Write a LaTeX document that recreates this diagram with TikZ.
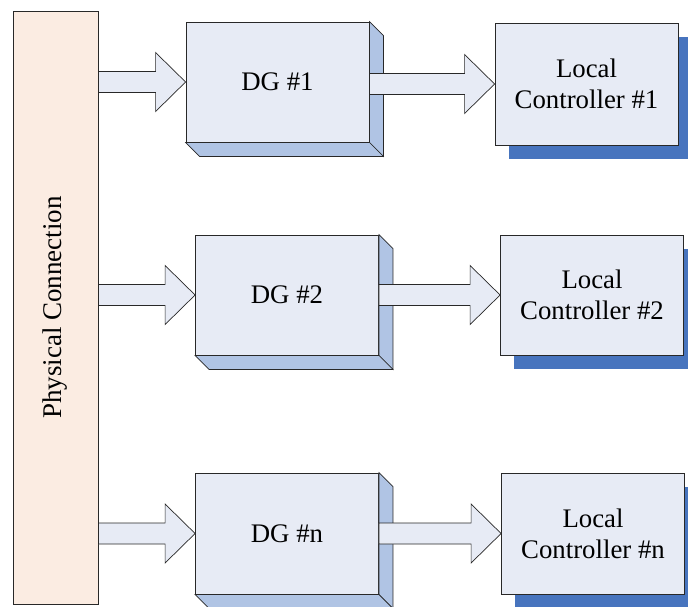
\documentclass[tikz,border=0pt]{standalone}
\usepackage{fontspec}
\setmainfont{Liberation Serif}
\usetikzlibrary{calc}
\definecolor{peach}{RGB}{251,236,226}
\definecolor{pale}{RGB}{231,235,245}
\definecolor{side}{RGB}{176,196,228}
\definecolor{shadowblue}{RGB}{71,116,190}
\definecolor{edge}{RGB}{40,40,40}
\tikzset{
  pcbox/.style={draw=edge, line width=0.9pt, fill=peach, minimum width=85pt, minimum height=593pt, inner sep=0pt},
  dgbox/.style={draw=edge, line width=0.8pt, fill=pale, minimum width=183pt, minimum height=120pt, inner sep=0pt, font=\fontsize{26.8}{31}\selectfont},
  lcbox/.style={draw=edge, line width=0.8pt, fill=pale, minimum width=183pt, minimum height=121pt, inner sep=0pt, align=center, font=\fontsize{26.8}{31}\selectfont},
  sideface/.style={draw=edge, line width=0.7pt, fill=side},
  shadowface/.style={fill=shadowblue},
  barrow/.style={draw=edge, line width=0.7pt, fill=pale, line join=miter},
}
\newcommand\blockarrow[2]{%
  \path[barrow] let \p1=(#1), \p2=(#2) in
    (\x1,\y2+10.5pt) -- (\x2-30pt,\y2+10.5pt) -- (\x2-30pt,\y2+29.5pt) -- (\x2,\y2)
    -- (\x2-30pt,\y2-29.5pt) -- (\x2-30pt,\y2-10.5pt) -- (\x1,\y2-10.5pt) -- cycle;}
\newcommand\dgdepth[1]{%
  \path[sideface] (#1.north east) -- ($(#1.north east)+(14,14)$) -- ($(#1.south east)+(14,14)$) -- (#1.south east) -- cycle;
  \path[sideface] (#1.south west) -- ($(#1.south west)+(14,14)$) -- ($(#1.south east)+(14,14)$) -- (#1.south east) -- cycle;}
\newcommand\lcshadow[1]{%
  \fill[shadowface] ($(#1.north west)+(14,14)$) rectangle ($(#1.south east)+(14,14)$);}
\begin{document}
\begin{tikzpicture}[x=1pt,y=-1pt]
\useasboundingbox (0,0) rectangle (688,606);
\begin{scope}
\clip (0,0) rectangle (688,606);
% physical connection
\node[pcbox] (pc) at (55.5,307.5) {};
\node[rotate=90, font=\fontsize{27}{31}\selectfont] (pct) at (pc.center) {Physical Connection};
% DG boxes
\node[dgbox] (dg1) at (277.5,82) {DG \#1};
\node[dgbox] (dg2) at (287,295) {DG \#2};
\node[dgbox, minimum height=121pt] (dgn) at (287,533.5) {DG \#n};
\dgdepth{dg1}
\dgdepth{dg2}
\dgdepth{dgn}
% local controllers
\node[lcbox, minimum height=122pt] (lc1) at (586.5,84) {};
\node[lcbox, minimum height=120pt] (lc2) at (592,295) {};
\node[lcbox] (lcn) at (593,533.5) {};
\lcshadow{lc1}
\lcshadow{lc2}
\lcshadow{lcn}
\node[lcbox, minimum height=122pt] (lc1f) at (lc1) {Local\\Controller \#1};
\node[lcbox, minimum height=120pt] (lc2f) at (lc2) {Local\\Controller \#2};
\node[lcbox] (lcnf) at (lcn) {Local\\Controller \#n};
% arrows
\blockarrow{pc.east}{dg1.west}
\blockarrow{pc.east}{dg2.west}
\blockarrow{pc.east}{dgn.west}
\blockarrow{dg1.east}{lc1f.west}
\blockarrow{dg2.east}{lc2f.west}
\blockarrow{dgn.east}{lcnf.west}
\end{scope}
\end{tikzpicture}
\end{document}
